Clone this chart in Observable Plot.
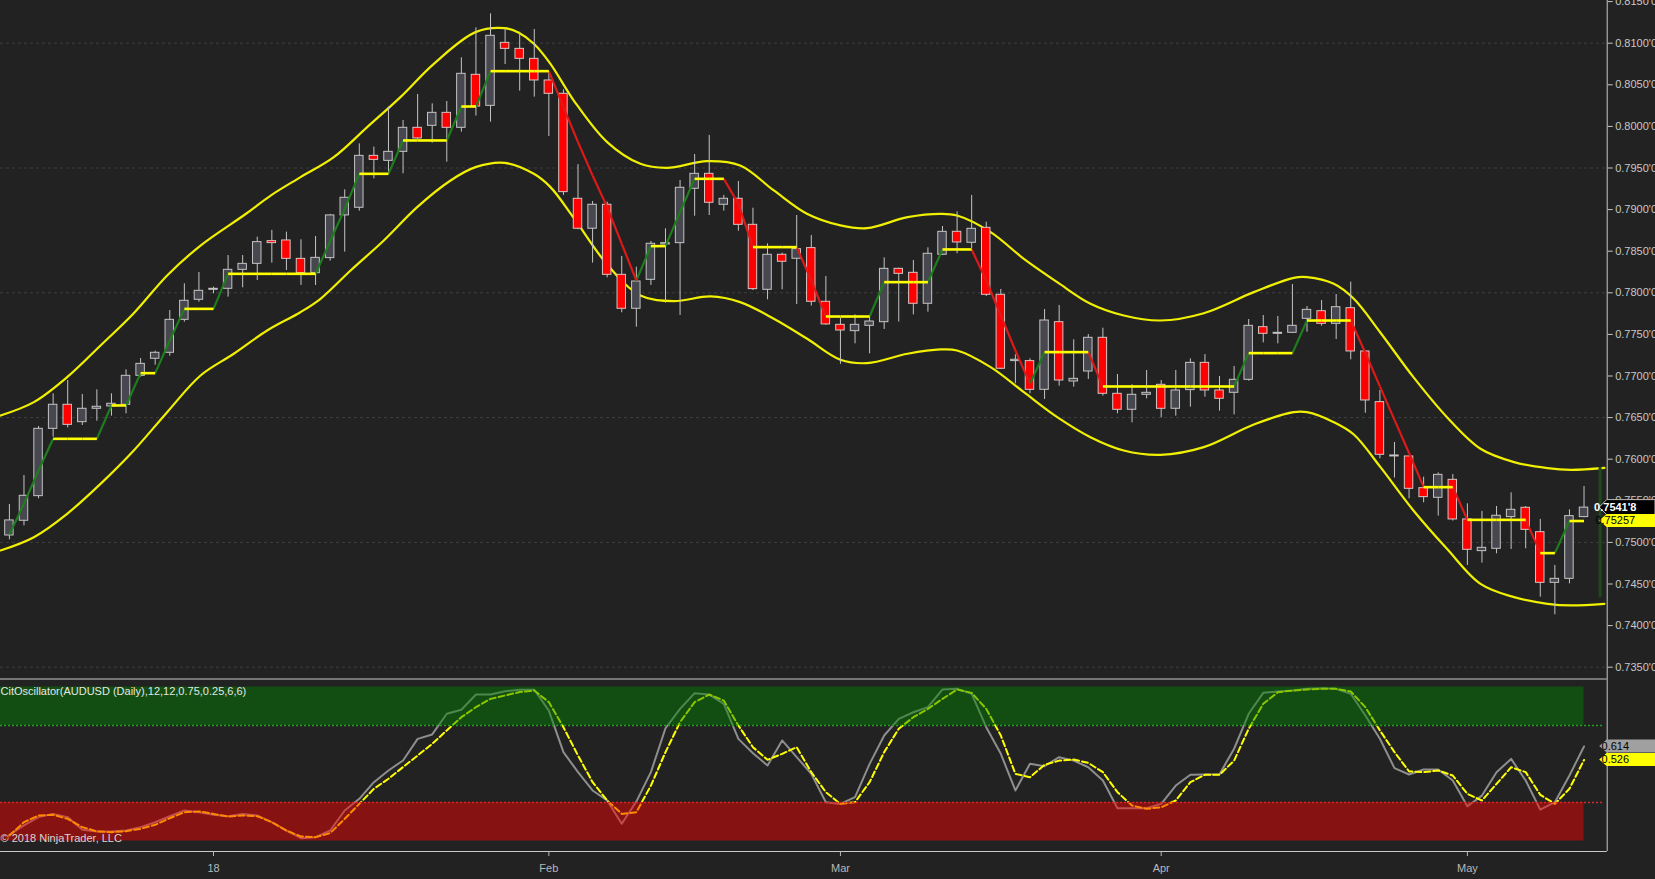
<!DOCTYPE html>
<html>
<head>
<meta charset="utf-8">
<script src="https://cdn.jsdelivr.net/npm/d3@7"></script>
<script src="https://cdn.jsdelivr.net/npm/@observablehq/plot@0.6"></script>
<style>
  html, body { margin: 0; padding: 0; background: #222222; overflow: hidden; }
  #chart svg { display: block; }
</style>
</head>
<body>
<div id="chart"></div>
<script>
// ---------------- DATA (AUDUSD daily, bar index 0 = 12 Dec 2017 ... 108 = 11 May 2018) ----------------
const open = [
  0.75083,0.75260,0.75556,0.76365,0.76654,0.76445,0.76606,0.76634,0.76654,0.77002,
  0.77207,0.77279,0.77675,0.77916,0.78036,0.78048,0.78276,0.78348,0.78621,0.78629,
  0.78408,0.78236,0.78417,0.78930,0.79022,0.79646,0.79586,0.79694,0.79983,0.80007,
  0.80163,0.79983,0.80620,0.80247,0.81004,0.80932,0.80812,0.80552,0.80392,0.79130,
  0.78770,0.79058,0.78216,0.77808,0.78156,0.78581,0.78597,0.79250,0.79430,0.79058,
  0.79130,0.78817,0.78036,0.78457,0.78409,0.78537,0.77892,0.77615,0.77539,0.77603,
  0.77647,0.78288,0.78240,0.77868,0.78457,0.78733,0.78601,0.78781,0.77976,0.77179,
  0.77179,0.76834,0.77647,0.76934,0.77054,0.77459,0.76786,0.76594,0.76774,0.76894,
  0.76606,0.76830,0.77158,0.76826,0.76798,0.76954,0.77587,0.77507,0.77519,0.77687,
  0.77779,0.77627,0.77815,0.77295,0.76686,0.76033,0.76033,0.75652,0.75536,0.75752,
  0.75276,0.74895,0.74923,0.75304,0.75416,0.75123,0.74514,0.74562,0.75304
];
const high = [
  0.75456,0.75804,0.76393,0.76786,0.76946,0.76778,0.76834,0.76786,0.77074,0.77210,
  0.77299,0.77787,0.78108,0.78244,0.78068,0.78448,0.78448,0.78669,0.78750,0.78729,
  0.78637,0.78677,0.78942,0.79238,0.79790,0.79751,0.80231,0.80071,0.80384,0.80271,
  0.80299,0.80824,0.81185,0.81353,0.81173,0.81133,0.81165,0.80652,0.80440,0.79540,
  0.79098,0.79090,0.78437,0.78308,0.78617,0.78769,0.79350,0.79662,0.79891,0.79170,
  0.79338,0.79017,0.78589,0.78477,0.78929,0.78689,0.78196,0.77695,0.77735,0.77707,
  0.78420,0.78296,0.78388,0.78541,0.78797,0.78973,0.79170,0.78849,0.78040,0.77255,
  0.77207,0.77799,0.77848,0.77435,0.77499,0.77575,0.77018,0.76894,0.77066,0.76946,
  0.77066,0.77206,0.77258,0.76994,0.77114,0.77679,0.77727,0.77715,0.78100,0.77835,
  0.77907,0.77980,0.78128,0.77295,0.76826,0.76201,0.76033,0.75784,0.75836,0.75816,
  0.75464,0.75372,0.75432,0.75596,0.75432,0.75276,0.74723,0.75392,0.75672
];
const low = [
  0.75031,0.75199,0.75524,0.76265,0.76377,0.76405,0.76457,0.76517,0.76546,0.76986,
  0.77130,0.77239,0.77647,0.77888,0.77988,0.77948,0.78060,0.78148,0.78356,0.78268,
  0.78088,0.78088,0.78381,0.78489,0.78981,0.79370,0.79430,0.79430,0.79839,0.79799,
  0.79570,0.79931,0.80123,0.80051,0.80744,0.80424,0.80352,0.79879,0.79170,0.78757,
  0.78357,0.78180,0.77760,0.77587,0.78088,0.77876,0.77728,0.78921,0.78929,0.78981,
  0.78741,0.78028,0.77916,0.78036,0.77860,0.77840,0.77608,0.77140,0.77387,0.77267,
  0.77559,0.77649,0.77735,0.77767,0.78449,0.78469,0.78529,0.77956,0.77078,0.76906,
  0.76786,0.76718,0.76878,0.76866,0.76958,0.76758,0.76546,0.76437,0.76726,0.76497,
  0.76517,0.76626,0.76746,0.76578,0.76533,0.76938,0.77399,0.77387,0.77515,0.77527,
  0.77599,0.77439,0.77194,0.76553,0.76005,0.75774,0.75524,0.75476,0.75316,0.75256,
  0.74723,0.74751,0.74863,0.74915,0.74923,0.74342,0.74130,0.74502,0.75296
];
const close = [
  0.75264,0.75560,0.76365,0.76654,0.76413,0.76606,0.76630,0.76666,0.77002,0.77146,
  0.77279,0.77675,0.77904,0.78024,0.78048,0.78276,0.78348,0.78609,0.78597,0.78408,
  0.78236,0.78420,0.78930,0.79142,0.79646,0.79598,0.79694,0.79983,0.79855,0.80163,
  0.79983,0.80632,0.80239,0.81089,0.80932,0.80812,0.80552,0.80392,0.79210,0.78770,
  0.79058,0.78216,0.77808,0.78136,0.78589,0.78597,0.79262,0.79430,0.79082,0.79130,
  0.78817,0.78044,0.78457,0.78373,0.78525,0.77892,0.77620,0.77547,0.77615,0.77655,
  0.78288,0.78228,0.77868,0.78469,0.78733,0.78605,0.78769,0.77976,0.77087,0.77195,
  0.76834,0.77667,0.76946,0.76966,0.77459,0.76786,0.76594,0.76774,0.76798,0.76606,
  0.76826,0.77158,0.76826,0.76726,0.76954,0.77603,0.77507,0.77519,0.77603,0.77795,
  0.77627,0.77827,0.77295,0.76706,0.76053,0.76045,0.75644,0.75544,0.75812,0.75276,
  0.74911,0.74935,0.75320,0.75392,0.75151,0.74514,0.74562,0.75316,0.75418
];
// trailing step line (per bar)
const stepLine = [
  0.75095,0.75464,0.75864,0.76245,0.76245,0.76245,0.76245,0.76646,0.76646,0.77034,
  0.77034,0.77427,0.77807,0.77807,0.77807,0.78228,0.78228,0.78228,0.78228,0.78228,
  0.78228,0.78228,0.78620,0.79010,0.79430,0.79430,0.79430,0.79831,0.79831,0.79831,
  0.79831,0.80239,0.80239,0.80664,0.80664,0.80664,0.80664,0.80664,0.80231,0.79811,
  0.79410,0.79030,0.78589,0.78148,0.78561,0.78561,0.78969,0.79370,0.79370,0.79370,
  0.79069,0.78549,0.78549,0.78549,0.78549,0.78148,0.77715,0.77715,0.77715,0.77715,
  0.78128,0.78128,0.78128,0.78128,0.78521,0.78521,0.78521,0.78148,0.77727,0.77307,
  0.76906,0.77287,0.77287,0.77287,0.77287,0.76874,0.76874,0.76874,0.76874,0.76874,
  0.76874,0.76874,0.76874,0.76874,0.76874,0.77275,0.77275,0.77275,0.77275,0.77667,
  0.77667,0.77667,0.77667,0.77279,0.76876,0.76473,0.76075,0.75664,0.75664,0.75664,
  0.75271,0.75271,0.75271,0.75271,0.75271,0.74871,0.74871,0.75257,0.75257
];
// envelope bands (read at these bar positions)
const upperIdx = [-0.61,1.68,3.96,6.25,8.53,10.82,13.11,16.23,17.92,19.97,22.25,24.54,26.82,29.11,31.97,33.96,34.94,35.97,37.11,38.71,41.0,43.28,45.1,47.84,50.12,52.43,54.7,57.0,58.83,61.6,63.86,65.0,67.3,69.58,71.87,74.15,76.43,78.95,81.92,85.35,88.09,89.0,90.84,92.21,94.04,96.3,98.6,100.9,103.2,105.5,107.1,109.4];
const upperBand = [0.76525,0.76686,0.76986,0.77367,0.77755,0.78208,0.78568,0.78950,0.79169,0.79390,0.79630,0.79991,0.80352,0.80752,0.81133,0.81181,0.81125,0.80993,0.80752,0.80311,0.79811,0.79550,0.79502,0.79582,0.79530,0.79230,0.78950,0.78810,0.78777,0.78909,0.78949,0.78929,0.78729,0.78408,0.78128,0.77868,0.77727,0.77667,0.77755,0.78008,0.78180,0.78188,0.78108,0.77928,0.77520,0.76986,0.76505,0.76125,0.75965,0.75892,0.75872,0.75896];
const lowerIdx = [-0.61,1.68,3.96,6.25,8.53,10.82,13.11,15.39,17.68,19.96,21.34,23.4,25.68,27.97,30.26,31.97,33.96,35.97,37.11,38.71,41.0,43.28,45.57,48.08,50.12,52.43,54.72,57.0,58.83,61.6,63.86,65.0,67.3,69.58,71.87,74.15,76.43,78.95,81.92,85.35,88.09,89.0,90.84,92.21,94.04,96.3,98.6,100.9,103.2,105.5,107.1,109.4];
const lowerBand = [0.74903,0.75063,0.75344,0.75704,0.76105,0.76565,0.77006,0.77267,0.77547,0.77767,0.77928,0.78268,0.78629,0.79030,0.79350,0.79510,0.79562,0.79430,0.79270,0.78900,0.78340,0.77968,0.77900,0.77956,0.77888,0.77688,0.77447,0.77195,0.77155,0.77267,0.77319,0.77307,0.77107,0.76806,0.76506,0.76265,0.76105,0.76053,0.76145,0.76417,0.76565,0.76565,0.76445,0.76297,0.75904,0.75384,0.74923,0.74502,0.74342,0.74262,0.74242,0.74262];
const rightBarIdx = 109.1;
const rightBar = [0.75900, 0.74340];

// CitOscillator
const oscRaw = [
  0.040,0.101,0.155,0.176,0.155,0.073,0.062,0.062,0.068,0.090,
  0.122,0.161,0.198,0.187,0.170,0.161,0.176,0.166,0.122,0.068,
  0.018,0.025,0.068,0.198,0.274,0.382,0.458,0.523,0.663,0.692,
  0.826,0.852,0.951,0.951,0.973,0.982,0.982,0.847,0.577,0.447,
  0.328,0.263,0.112,0.256,0.447,0.732,0.858,0.960,0.951,0.891,
  0.663,0.570,0.490,0.653,0.545,0.436,0.252,0.241,0.285,0.501,
  0.685,0.793,0.836,0.869,0.984,0.988,0.956,0.739,0.566,0.328,
  0.501,0.486,0.544,0.522,0.479,0.393,0.213,0.213,0.213,0.241,
  0.360,0.430,0.432,0.434,0.599,0.826,0.962,0.971,0.977,0.988,
  0.992,0.988,0.956,0.815,0.664,0.473,0.432,0.464,0.464,0.393,
  0.226,0.295,0.447,0.533,0.393,0.204,0.252,0.425,0.614
];
const oscSignal = [
  0.036,0.122,0.166,0.170,0.144,0.090,0.062,0.057,0.064,0.079,
  0.105,0.148,0.187,0.192,0.176,0.159,0.166,0.161,0.122,0.068,
  0.029,0.025,0.051,0.144,0.241,0.339,0.404,0.480,0.555,0.631,
  0.718,0.804,0.869,0.923,0.945,0.967,0.977,0.902,0.739,0.555,
  0.382,0.263,0.176,0.187,0.360,0.577,0.772,0.902,0.951,0.912,
  0.750,0.609,0.527,0.566,0.609,0.447,0.317,0.241,0.252,0.382,
  0.577,0.729,0.804,0.858,0.923,0.984,0.962,0.858,0.685,0.436,
  0.414,0.495,0.522,0.529,0.507,0.447,0.317,0.230,0.209,0.219,
  0.263,0.382,0.430,0.430,0.522,0.729,0.891,0.966,0.977,0.984,
  0.988,0.988,0.971,0.869,0.718,0.577,0.452,0.447,0.458,0.425,
  0.306,0.263,0.371,0.479,0.447,0.300,0.241,0.339,0.526
];
const oscUpper = 0.75, oscLower = 0.25;
const oscZoneTop = 1.0, oscZoneBottom = 0.0;

// axes / labels
const priceTicks = [0.735,0.740,0.745,0.750,0.755,0.760,0.765,0.770,0.775,0.780,0.785,0.790,0.795,0.800,0.805,0.810,0.815];
const gridLevels = [0.735,0.750,0.765,0.780,0.795,0.810];
const dateTickIdx = [14, 37, 57, 79, 100];
const dateTickLabels = ["18", "Feb", "Mar", "Apr", "May"];
const oscTitle = "CitOscillator(AUDUSD (Daily),12,12,0.75,0.25,6,6)";
const copyright = "© 2018 NinjaTrader, LLC";

// ---------------- LAYOUT ----------------
const W = 1655;
const MR = 48.3;
const X_DOMAIN = [-0.61, 109.59];
const PRICE_DOMAIN = [0.733642, 0.815132];
const OSC_DOMAIN = [-0.0682, 1.0552];
const FONT = "'Liberation Sans', Arial, Helvetica, sans-serif";
const AXIS_COLOR = "#c8c8c8";

const fmtPip = v => { const s = (+v).toFixed(5); return s.slice(0, 6) + "'" + s.slice(6); };
const labelMap = new Map(dateTickIdx.map((d, k) => [d, dateTickLabels[k]]));

const bars = open.map((o, i) => ({i, o, h: high[i], l: low[i], c: close[i]}));
const upBars = bars.filter(d => d.c >= d.o);
const downBars = bars.filter(d => d.c < d.o);
const segs = stepLine.slice(1).map((v, k) => ({x1: k, x2: k + 1, y1: stepLine[k], y2: v}));
const flatSegs = segs.filter(s => s.y2 === s.y1);
const riseSegs = segs.filter(s => s.y2 > s.y1);
const fallSegs = segs.filter(s => s.y2 < s.y1);
const upperPts = upperIdx.map((x, k) => ({x, y: upperBand[k]}));
const lowerPts = lowerIdx.map((x, k) => ({x, y: lowerBand[k]}));
const BW = 0.29;

const commonStyle = {background: "#222222", color: AXIS_COLOR, fontFamily: FONT, fontSize: "11px"};

const price = Plot.plot({
  width: W, height: 678,
  marginLeft: 0, marginRight: MR, marginTop: 0, marginBottom: 0,
  style: commonStyle,
  x: {domain: X_DOMAIN, axis: null},
  y: {domain: PRICE_DOMAIN, axis: null},
  marks: [
    Plot.ruleY(gridLevels, {stroke: "#3e3e3e", strokeDasharray: "3,3"}),
    Plot.axisY({anchor: "right", ticks: priceTicks, tickFormat: fmtPip, tickSize: 5, tickPadding: 3, label: null, fontSize: 11}),
    Plot.ruleX([X_DOMAIN[1]], {stroke: AXIS_COLOR, strokeWidth: 1}),
    Plot.line(upperPts, {x: "x", y: "y", stroke: "#f0f000", strokeWidth: 2.2, curve: "catmull-rom"}),
    Plot.line(lowerPts, {x: "x", y: "y", stroke: "#f0f000", strokeWidth: 2.2, curve: "catmull-rom"}),
    Plot.ruleX([rightBarIdx], {y1: rightBar[0], y2: rightBar[1], stroke: "#1d4a1d", strokeWidth: 3}),
    Plot.ruleX(bars, {x: "i", y1: "l", y2: "h", stroke: "#c4c4c4", strokeWidth: 1}),
    Plot.rect(upBars, {x1: d => d.i - BW, x2: d => d.i + BW, y1: "o", y2: "c", fill: "#47474f", stroke: "#c4c4c4", strokeWidth: 1}),
    Plot.rect(downBars, {x1: d => d.i - BW, x2: d => d.i + BW, y1: "o", y2: "c", fill: "#ff0000", stroke: "#d8c4c4", strokeWidth: 1}),
    Plot.link(riseSegs, {x1: "x1", y1: "y1", x2: "x2", y2: "y2", stroke: "#1f7d1f", strokeWidth: 2.2}),
    Plot.link(fallSegs, {x1: "x1", y1: "y1", x2: "x2", y2: "y2", stroke: "#dd1a1a", strokeWidth: 2.2}),
    Plot.link(flatSegs, {x1: "x1", y1: "y1", x2: "x2", y2: "y2", stroke: "#ffff00", strokeWidth: 2.6})
  ]
});

const osc = Plot.plot({
  width: W, height: 201,
  marginLeft: 0, marginRight: MR, marginTop: 0, marginBottom: 28,
  style: commonStyle,
  x: {domain: X_DOMAIN},
  y: {domain: OSC_DOMAIN, axis: null},
  marks: [
    Plot.line(oscRaw, {x: (d, i) => i, y: d => d, stroke: "#8e8e8e", strokeWidth: 2}),
    Plot.line(oscSignal, {x: (d, i) => i, y: d => d, stroke: "#ffff00", strokeWidth: 2, strokeDasharray: "6,3"}),
    Plot.rect([0], {x1: X_DOMAIN[0], x2: open.length - 1, y1: oscUpper, y2: oscZoneTop, fill: "#008000", fillOpacity: 0.46}),
    Plot.rect([0], {x1: X_DOMAIN[0], x2: open.length - 1, y1: oscZoneBottom, y2: oscLower, fill: "#ff0000", fillOpacity: 0.46}),
    Plot.ruleY([oscUpper], {x1: X_DOMAIN[0], x2: 109.4, stroke: "#22a022", strokeWidth: 1.5, strokeDasharray: "2,2"}),
    Plot.ruleY([oscLower], {x1: X_DOMAIN[0], x2: 109.4, stroke: "#d82828", strokeWidth: 1.5, strokeDasharray: "2,2"}),
    Plot.ruleY([OSC_DOMAIN[1]], {stroke: AXIS_COLOR, strokeWidth: 1, dy: 0.5}),
    Plot.ruleY([OSC_DOMAIN[0]], {stroke: AXIS_COLOR, strokeWidth: 1}),
    Plot.ruleX([X_DOMAIN[1]], {stroke: AXIS_COLOR, strokeWidth: 1}),
    Plot.axisX({anchor: "bottom", ticks: dateTickIdx, tickFormat: d => labelMap.get(d), tickSize: 5, tickPadding: 8, label: null, fontSize: 11, color: "#b8b8b8"}),
    Plot.text([oscTitle], {text: d => d, frameAnchor: "top-left", lineAnchor: "middle", textAnchor: "start", dy: 12.5, fill: "#e6e6e6", fontSize: 11}),
    Plot.text([copyright], {text: d => d, frameAnchor: "top-left", lineAnchor: "middle", textAnchor: "start", dy: 159.5, fill: "#d6d6d6", fontSize: 11})
  ]
});

// value tags on the right axis (positions from the plots' scales)
function addTag(chart, value, label, fill, textColor, opt = {}) {
  const y = chart.scale("y").apply(value);
  const x0 = chart.scale("x").apply(X_DOMAIN[1]);
  const h = opt.h || 14;
  const g = d3.select(chart).append("g");
  g.append("path")
    .attr("d", `M${x0 - 7.5},${y} L${x0},${y - h / 2} L${W},${y - h / 2} L${W},${y + h / 2} L${x0},${y + h / 2} Z`)
    .attr("fill", fill)
    .attr("stroke", opt.stroke || "none")
    .attr("stroke-width", 1);
  g.append("text")
    .attr("x", x0 + 8.6).attr("y", y).attr("dy", "0.36em")
    .attr("fill", textColor)
    .attr("font-family", FONT).attr("font-size", 11)
    .attr("font-weight", opt.bold ? "bold" : "normal")
    .text(label);
}
const lastIdx = open.length - 1;
addTag(price, close[lastIdx], fmtPip(close[lastIdx]), "#000000", "#ffffff", {stroke: "#bdbdbd", bold: true, h: 15});
addTag(price, stepLine[lastIdx], stepLine[lastIdx].toFixed(5), "#ffff00", "#000000", {h: 13});
addTag(osc, oscRaw[lastIdx], oscRaw[lastIdx].toFixed(3), "#a0a0a0", "#000000", {h: 13});
addTag(osc, oscSignal[lastIdx], oscSignal[lastIdx].toFixed(3), "#ffff00", "#000000", {h: 13});

const root = document.getElementById("chart");
root.appendChild(price);
root.appendChild(osc);
</script>
</body>
</html>
